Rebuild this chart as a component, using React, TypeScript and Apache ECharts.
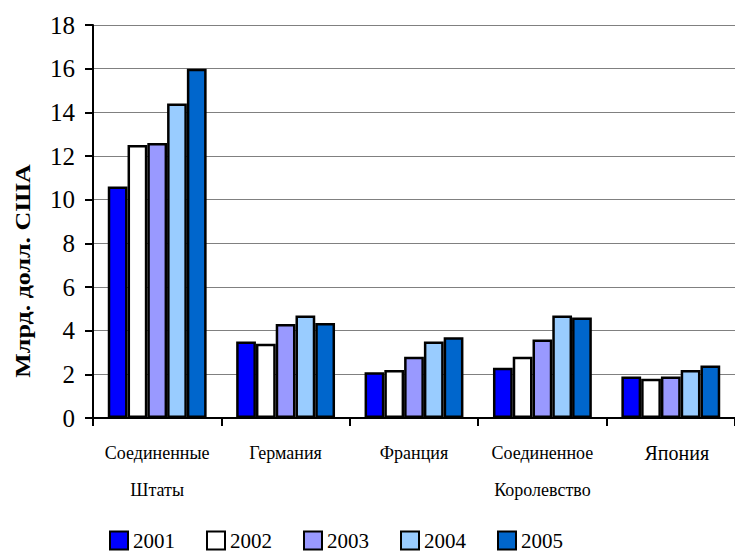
import React, { useEffect, useRef } from "react";
import * as echarts from "echarts";

const categories = ["Соединенные\nШтаты", "Германия", "Франция", "Соединенное\nКоролевство", "Япония"];
const years = ["2001", "2002", "2003", "2004", "2005"];
const v2001 = [10.6, 3.5, 2.1, 2.3, 1.9];
const v2002 = [12.5, 3.4, 2.2, 2.8, 1.8];
const v2003 = [12.6, 4.3, 2.8, 3.6, 1.9];
const v2004 = [14.4, 4.7, 3.5, 4.7, 2.2];
const v2005 = [16.0, 4.35, 3.7, 4.6, 2.4];
const yTicks = [0, 2, 4, 6, 8, 10, 12, 14, 16, 18];
const colors = ["#0000FF", "#FFFFFF", "#9999FF", "#99CCFF", "#0066CC"];
const FONT = "Liberation Serif";

export default function App() {
  const ref = useRef<HTMLDivElement>(null);
  useEffect(() => {
    if (!ref.current) return;
    const chart = echarts.init(ref.current, null, { renderer: "svg" });
    const values = [v2001, v2002, v2003, v2004, v2005];
    chart.setOption({
      animation: false,
      backgroundColor: "#FFFFFF",
      textStyle: { fontFamily: FONT },
      grid: { left: 93, top: 25, bottom: 135, right: -8, containLabel: false },
      legend: {
        data: years,
        left: 109,
        top: 530,
        padding: 0,
        itemWidth: 18,
        itemHeight: 18,
        itemGap: 31,
        icon: "rect",
        textStyle: { fontFamily: FONT, fontSize: 21, color: "#000", lineHeight: 20 },
      },
      xAxis: {
        type: "category",
        data: categories,
        axisLine: { lineStyle: { color: "#000", width: 2 } },
        axisTick: { show: true, length: 8, lineStyle: { color: "#000", width: 2 } },
        axisLabel: {
          color: "#000",
          fontFamily: FONT,
          fontSize: 18,
          lineHeight: 37,
          margin: 16,
          interval: 0,
          formatter: (v: string) => (v === "Япония" ? "{j|Япония}" : v),
          rich: { j: { fontSize: 20, fontFamily: FONT, color: "#000", padding: [0, 0, 0, 12] } },
        },
      },
      yAxis: {
        type: "value",
        min: yTicks[0],
        max: yTicks[yTicks.length - 1],
        interval: 2,
        axisLine: { show: true, lineStyle: { color: "#000", width: 2 } },
        axisTick: { show: true, length: 8, lineStyle: { color: "#000", width: 2 } },
        axisLabel: { color: "#000", fontFamily: FONT, fontSize: 25, margin: 18 },
        splitLine: { show: true, lineStyle: { color: "#808080", width: 1 } },
      },
      graphic: [
        {
          type: "text",
          x: 23,
          y: 271,
          rotation: Math.PI / 2,
          scaleX: 1.3,
          style: {
            text: "Млрд. долл. США",
            fontFamily: FONT,
            fontWeight: "bold",
            fontSize: 20,
            fill: "#000",
            textAlign: "center",
            textVerticalAlign: "middle",
          },
        },
      ],
      series: years.map((y, i) => ({
        name: y,
        type: "bar",
        data: values[i],
        barGap: "0%",
        barCategoryGap: "23%",
        itemStyle: { color: colors[i], borderColor: "#000", borderWidth: 2.5 },
      })),
    });
    return () => chart.dispose();
  }, []);
  return <div ref={ref} style={{ width: 735, height: 553, position: "absolute", left: 0, top: 0 }} />;
}
